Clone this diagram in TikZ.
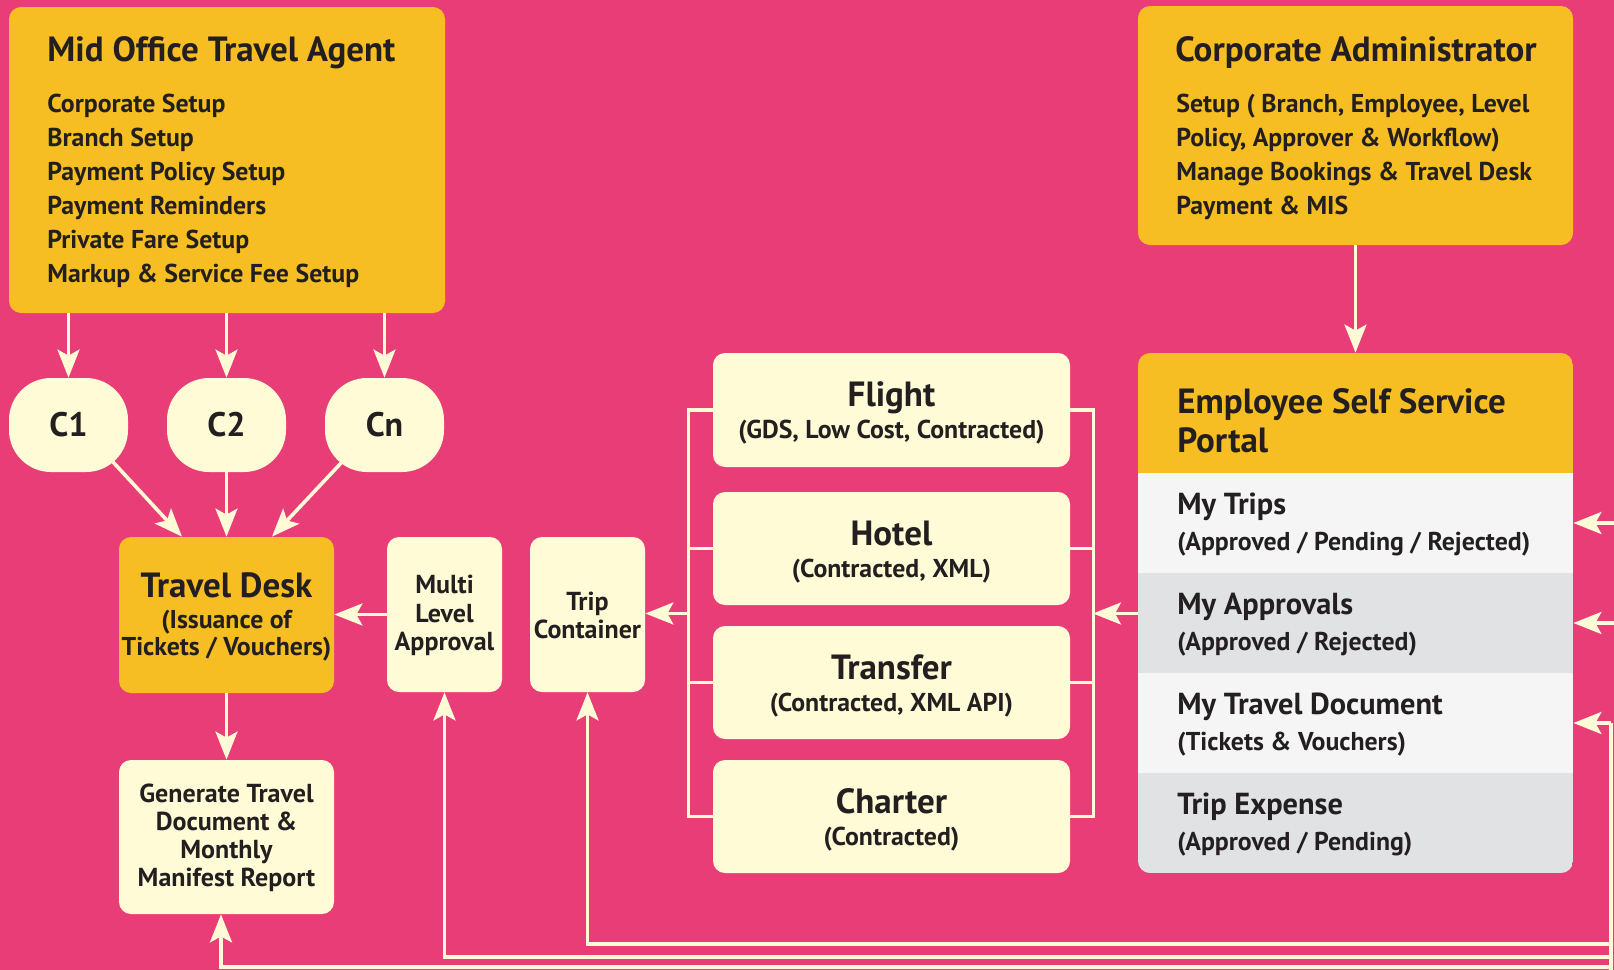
\documentclass[tikz,border=0pt]{standalone}
\usepackage{fontspec}
\setmainfont{PT Sans}
\usetikzlibrary{arrows.meta,fit}
\definecolor{bg}{HTML}{E93D78}
\definecolor{og}{HTML}{F6BE22}
\definecolor{cr}{HTML}{FFFBD6}
\definecolor{tx}{HTML}{231F20}
\definecolor{rowa}{HTML}{F5F5F5}
\definecolor{rowb}{HTML}{E1E2E4}
\begin{document}
\begin{tikzpicture}[x=0.5pt,y=-0.5pt,
 ob/.style={fill=og, rounded corners=6pt, inner sep=0pt},
 cb/.style={fill=cr, rounded corners=6pt, inner sep=0pt},
 big/.style={text=tx, inner sep=0pt, font=\fontsize{17.5}{20}\selectfont\bfseries},
 itm/.style={text=tx, inner sep=0pt, font=\fontsize{12.9}{15}\selectfont\bfseries},
 rowt/.style={text=tx, inner sep=0pt, font=\fontsize{15.2}{17}\selectfont\bfseries},
 rows/.style={text=tx, inner sep=0pt, font=\fontsize{12.9}{14}\selectfont\bfseries},
 sml/.style={text=tx, inner sep=0pt, font=\fontsize{13}{14}\selectfont\bfseries},
 cnode/.style={fill=cr, rounded corners=21pt, minimum width=59.5pt, minimum height=47pt, inner sep=0pt, text=tx, font=\fontsize{17}{18}\selectfont\bfseries},
 arr/.style={draw=cr, line width=1.8pt, -{Stealth[length=14pt,width=11pt,inset=3pt]}},
 ln/.style={draw=cr, line width=1.8pt},
]
\fill[bg] (0,0) rectangle (1614,970);
\useasboundingbox (0,0) rectangle (1614,970);

% Mid office
\node[ob, fit={(9,7)(445,313)}] (mid) {};
\node[big, anchor=base west] (midt) at (47,61) {Mid Office Travel Agent};
\foreach \t [count=\i from 0] in {Corporate Setup, Branch Setup, Payment Policy Setup, Payment Reminders, Private Fare Setup, Markup \& Service Fee Setup}
  \node[itm, anchor=base west] (mi\i) at (47,112+34*\i) {\t};

% Corporate admin
\node[ob, fit={(1138,6)(1573,245)}] (ca) {};
\node[big, anchor=base west] (cat) at (1175,61) {Corporate Administrator};
\foreach \t [count=\i from 0] in {{Setup ( Branch, Employee, Level}, {Policy, Approver \& Workflow)}, Manage Bookings \& Travel Desk, Payment \& MIS}
  \node[itm, anchor=base west] (ci\i) at (1176,112+34*\i) {\t};

% C nodes
\node[cnode] (c1) at (68.5,425) {C1};
\node[cnode] (c2) at (226.5,425) {C2};
\node[cnode] (cn) at (384.5,425) {Cn};

% Travel desk
\node[ob, fit={(119,537)(334,693)}] (td) {};
\node[big, anchor=base] (tdt) at (226.5,597) {Travel Desk};
\node[itm, anchor=base] (tds1) at (226.5,628) {(Issuance of};
\node[itm, anchor=base] (tds2) at (226.5,655) {Tickets / Vouchers)};

% Multi level approval
\node[cb, fit={(387,537)(502,692)}] (ml) {};
\node[sml, anchor=base] (ml1) at (444.5,593) {Multi};
\node[sml, anchor=base] (ml2) at (444.5,622) {Level};
\node[sml, anchor=base] (ml3) at (444.5,650) {Approval};

% Trip container
\node[cb, fit={(530,537)(645,692)}] (tc) {};
\node[sml, anchor=base] (tc1) at (587.5,610) {Trip};
\node[sml, anchor=base] (tc2) at (587.5,638) {Container};

% Generate
\node[cb, fit={(119,760)(334,914)}] (gen) {};
\node[sml, anchor=base] (g1) at (226.5,802) {Generate Travel};
\node[sml, anchor=base] (g2) at (226.5,830) {Document \&};
\node[sml, anchor=base] (g3) at (226.5,858) {Monthly};
\node[sml, anchor=base] (g4) at (226.5,886) {Manifest Report};

% Services
\node[cb, fit={(713,353)(1070,467)}] (fl) {};
\node[big, anchor=base] (flt) at (891.5,406) {Flight};
\node[itm, anchor=base] (fls) at (891.5,438) {(GDS, Low Cost, Contracted)};
\node[cb, fit={(713,492)(1070,605)}] (ho) {};
\node[big, anchor=base] (hot) at (891.5,545) {Hotel};
\node[itm, anchor=base] (hos) at (891.5,577) {(Contracted, XML)};
\node[cb, fit={(713,626)(1070,739)}] (tr) {};
\node[big, anchor=base] (trt) at (891.5,679) {Transfer};
\node[itm, anchor=base] (trs) at (891.5,711) {(Contracted, XML API)};
\node[cb, fit={(713,760)(1070,873)}] (ch) {};
\node[big, anchor=base] (cht) at (891.5,813) {Charter};
\node[itm, anchor=base] (chs) at (891.5,845) {(Contracted)};

% ESS panel
\begin{scope}
  \clip[rounded corners=6pt] (1138,353) rectangle (1573,873);
  \fill[og] (1138,353) rectangle (1573,473);
  \fill[rowa] (1138,473) rectangle (1573,573);
  \fill[rowb] (1138,573) rectangle (1573,673);
  \fill[rowa] (1138,673) rectangle (1573,773);
  \fill[rowb] (1138,773) rectangle (1573,873);
\end{scope}
\node[inner sep=0pt, fit={(1138,353)(1573,873)}] (ess) {};
\node[big, anchor=base west] (esst1) at (1177,413) {Employee Self Service};
\node[big, anchor=base west] (esst2) at (1177,452) {Portal};
\node[rowt, anchor=base west] (r1t) at (1177,514) {My Trips};
\node[rows, anchor=base west] (r1s) at (1177,550) {(Approved / Pending / Rejected)};
\node[rowt, anchor=base west] (r2t) at (1177,614) {My Approvals};
\node[rows, anchor=base west] (r2s) at (1177,650) {(Approved / Rejected)};
\node[rowt, anchor=base west] (r3t) at (1177,714) {My Travel Document};
\node[rows, anchor=base west] (r3s) at (1177,750) {(Tickets \& Vouchers)};
\node[rowt, anchor=base west] (r4t) at (1177,814) {Trip Expense};
\node[rows, anchor=base west] (r4s) at (1177,850) {(Approved / Pending)};

% connectors
\draw[arr] (mid.south -| c1) -- (c1);
\draw[arr] (mid.south -| c2) -- (c2);
\draw[arr] (mid.south -| cn) -- (cn);
\draw[arr] ([shift={(44.5,37)}]c1.center) -- ([xshift=-22.25pt]td.north);
\draw[arr] (c2) -- (td);
\draw[arr] ([shift={(-42.5,37)}]cn.center) -- ([xshift=22.75pt]td.north);
\draw[arr] (td) -- (gen);
\draw[arr] (ml.west) -- (ml.west -| td.east);
\draw[arr] (ca) -- (ess);

% brackets
\draw[ln] (fl.west) -- ++(-24,0) |- (ch.west);
\draw[ln] (ho.west) -- ++(-24,0);
\draw[ln] (tr.west) -- ++(-24,0);
\draw[ln] (fl.east) -- ++(23,0) |- (ch.east);
\draw[ln] (ho.east) -- ++(23,0);
\draw[ln] (tr.east) -- ++(23,0);
\coordinate (lbm) at (689,613.5);
\coordinate (rbm) at (1093,613.5);
\draw[arr] (lbm) -- (lbm -| tc.east);
\draw[arr] (rbm -| ess.west) -- (rbm);

% right side inputs
\coordinate (in1) at (1614,523);
\coordinate (in2) at (1614,623);
\coordinate (in3) at (1611,723);
\draw[arr] (in1) -- (in1 -| ess.east);
\draw[arr] (in2) -- (in2 -| ess.east);
\draw[arr] (in3) -- (in3 -| ess.east);
\coordinate (rb) at (1611,972);
\draw[ln] (in3) -- (rb);
\coordinate (b1) at (1611,944);
\coordinate (b2) at (1611,957);
\coordinate (b3) at (1611,967);
\draw[arr] (b1) -| (tc.south);
\draw[arr] (b2) -| (ml.south);
\draw[arr] (b3) -| ([xshift=-2.75pt]gen.south);
\end{tikzpicture}
\end{document}
